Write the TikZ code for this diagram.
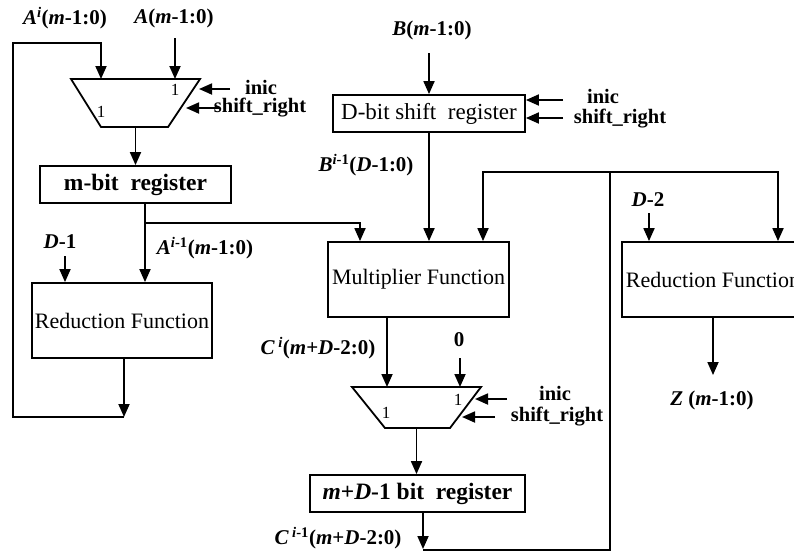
\documentclass[tikz,border=0pt]{standalone}
\usepackage{fontspec}
\setmainfont{Liberation Serif}
\usetikzlibrary{arrows.meta}
\newcommand{\vi}[1]{\textit{#1}}

\begin{document}
\begin{tikzpicture}[x=1pt, y=-1pt, >={Triangle[length=13pt,width=11pt]},
  wire/.style={line width=1.8pt},
  sig/.style={wire, ->},
  blk/.style={draw, line width=1.8pt, inner sep=0pt, font=\fontsize{22}{24}\selectfont},
  regbox/.style={blk, font=\fontsize{23.5}{26}\selectfont\bfseries},
  lbl/.style={inner sep=0pt, font=\fontsize{21}{24}\selectfont\bfseries},
  ctl/.style={inner sep=0pt, font=\fontsize{20.5}{23}\selectfont\bfseries},
  one/.style={inner sep=0pt, font=\fontsize{17}{19}\selectfont}]
  \clip (0,0) rectangle (794,552);
  % upper left: A path
  \draw[wire] (71,79) -- (200,79) -- (168,127) -- (101,127) -- cycle;
  \coordinate (mux1n) at (135.5,79);
  \coordinate (mux1s) at (135.5,127);
  \node[one] (mux1l) at (101,112) {1};
  \node[one] (mux1r) at (175,90) {1};
  \node[regbox, minimum width=191pt, minimum height=37pt] (mreg) at (135.5,184.5) {m-bit~ register};
  \node[blk, minimum width=180pt, minimum height=75pt] (redL) at (122,320.5) {Reduction Function};
  \node[lbl] (lAi) at (65,18) {\vi{A}\textsuperscript{\vi{i}}(\vi{m}-1:0)};
  \node[lbl] (lA) at (174,18) {\vi{A}(\vi{m}-1:0)};
  \node[ctl] (inic1) at (261,87) {inic};
  \node[ctl] (shr1) at (260,108) {shift\_right};
  \node[lbl] (lD1) at (60,242) {\vi{D}-1};
  \node[lbl] (lAim) at (205,248) {\vi{A}\textsuperscript{\vi{i}-1}(\vi{m}-1:0)};
  \coordinate (ain) at (175,38);
  \coordinate (fbA0) at (124,417);
  \coordinate (fbA1) at (13,43);
  \coordinate (abus) at (145,223);
  \coordinate (d1in) at (65,256);
  \draw[sig] (redL.south -| fbA0) -- (fbA0);
  \draw[sig] (fbA0) -| (fbA1) -| ([xshift=-34.5pt]mux1n);
  \draw[sig] (ain) -- (mux1n -| ain);
  \draw[sig] (230,89) -- (199,89);
  \draw[sig] (220,108) -- (186,108);
  \draw[sig] (mux1s) -- (mreg.north);
  \draw[sig] (mreg.south -| abus) -- (redL.north -| abus);
  \draw[sig] (d1in) -- (redL.north -| d1in);
  % middle: B path and multiplier
  \node[blk, minimum width=192pt, minimum height=37pt, font=\fontsize{23}{25}\selectfont] (dreg) at (429,113.5) {D-bit shift~ register};
  \node[blk, minimum width=181pt, minimum height=75pt] (mult) at (418.5,279.5) {Multiplier Function};
  \node[lbl] (lB) at (432,30) {\vi{B}(\vi{m}-1:0)};
  \node[ctl] (inic2) at (603,96) {inic};
  \node[ctl] (shr2) at (620,119) {shift\_right};
  \node[lbl] (lBi) at (366,165) {\vi{B}\textsuperscript{\vi{i}-1}(\vi{D}-1:0)};
  \coordinate (bin) at (429,53);
  \draw[sig] (bin) -- (dreg.north);
  \draw[sig] (563,100) -- ([yshift=13.5pt]dreg.east);
  \draw[sig] (563,118) -- ([yshift=-4.5pt]dreg.east);
  \draw[sig] (dreg.south) -- (dreg.south |- mult.north);
  \draw[sig] (abus) -| ([xshift=-58.5pt]mult.north);
  % lower middle: C path
  \draw[wire] (352,387) -- (481,387) -- (450,428) -- (385,428) -- cycle;
  \coordinate (mux2n) at (416.5,387);
  \coordinate (mux2s) at (416.5,428);
  \node[one] (mux2l) at (386,413) {1};
  \node[one] (mux2r) at (458,400) {1};
  \node[regbox, minimum width=215pt, minimum height=37pt] (creg) at (417.5,493.5) {\vi{m}+\vi{D}-1 bit~ register};
  \node[lbl] (lCi) at (318,348) {\vi{C}\,\textsuperscript{\vi{i}}(\vi{m}+\vi{D}-2:0)};
  \node[lbl] (l0) at (459,340) {0};
  \node[ctl] (inic3) at (555,393) {inic};
  \node[ctl] (shr3) at (557,417) {shift\_right};
  \node[lbl] (lCim) at (338,538) {\vi{C}\,\textsuperscript{\vi{i}-1}(\vi{m}+\vi{D}-2:0)};
  \coordinate (zin) at (460,358);
  \coordinate (cbus0) at (423,550);
  \coordinate (cbus1) at (610,172);
  \draw[sig] ([xshift=-31.5pt]mult.south) -- (mux2n -| 387,0);
  \draw[sig] (zin) -- (mux2n -| zin);
  \draw[sig] (507,399) -- (475,399);
  \draw[sig] (495,417) -- (462,417);
  \draw[sig] (mux2s) -- (mux2s |- creg.north);
  \draw[sig] (creg.south -| cbus0) -- ([yshift=1pt]cbus0);
  \draw[wire] (cbus0) -| (cbus1);
  \draw[sig] (cbus1) -| ([xshift=64.5pt]mult.north);
  % right: final reduction
  \node[blk, minimum width=182pt, minimum height=75pt] (redR) at (713,279.5) {Reduction Function};
  \node[lbl] (lD2) at (648,200) {\vi{D}-2};
  \node[lbl] (lZ) at (712,400) {\vi{Z} (\vi{m}-1:0)};
  \coordinate (d2in) at (649,213);
  \coordinate (zout) at (713,375);
  \draw[sig] (cbus1) -| (redR.north -| 778,0);
  \draw[sig] (d2in) -- (redR.north -| d2in);
  \draw[sig] (redR.south -| zout) -- (zout);
\end{tikzpicture}
\end{document}
